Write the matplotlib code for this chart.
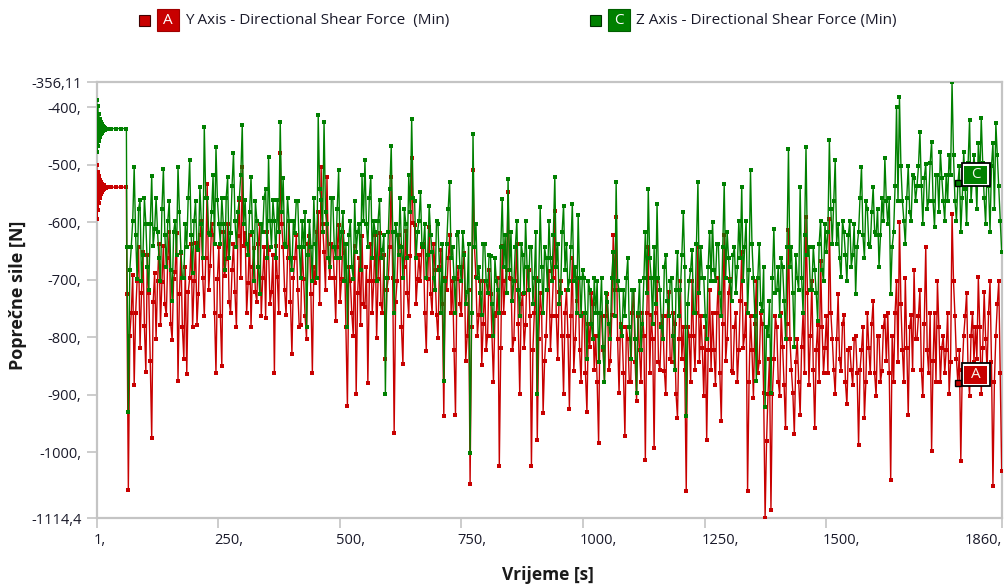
import numpy as np
import matplotlib
matplotlib.use('Agg')
import matplotlib.pyplot as plt
from matplotlib.patches import Rectangle
from matplotlib.transforms import ScaledTranslation

plt.rcParams['font.family'] = ['Open Sans', 'DejaVu Sans']

# ---------------- data ----------------
# start-up transient (time in s)
t_start = list(range(1, 21)) + [25, 30, 40, 50, 62, 63]
y_start = [-501, -594, -512, -578, -520, -566, -526, -558, -530, -551,
           -533, -547, -535, -544, -536, -542, -537, -541, -538, -540,
           -539, -539, -539, -539, -539, -725]
z_start = [-387, -478, -398, -468, -412, -458, -420, -452, -426, -447,
           -430, -444, -432, -442, -434, -440, -435, -439, -436, -438,
           -437, -437, -437, -437, -437, -643]

# main record: samples every 6 s from 66 s to 1860 s ...
t_main = np.arange(66, 1861, 6)
# ... and the samples in between (69 s ... 1857 s)
t_mid = np.arange(69, 1860, 6)

y_main = [
    -1065, -757, -883, -702, -818, -652, -861, -723, -975, -688,
    -703, -778, -641, -762, -617, -804, -687, -876, -653, -838,
    -864, -697, -782, -636, -724, -598, -763, -533, -676, -622,
    -862, -643, -850, -694, -603, -757, -637, -783, -562, -504,
    -618, -705, -783, -644, -738, -603, -697, -766, -648, -722,
    -862, -696, -480, -643, -761, -597, -830, -663, -717, -779,
    -698, -803, -624, -862, -705, -583, -504, -652, -521, -697,
    -643, -771, -604, -698, -654, -920, -702, -797, -899, -663,
    -624, -748, -879, -637, -703, -802, -618, -758, -838, -697,
    -522, -966, -703, -642, -847, -616, -763, -489, -604, -698,
    -702, -637, -824, -609, -758, -683, -801, -648, -937, -718,
    -623, -703, -935, -677, -762, -654, -798, -1055, -510, -696,
    -762, -848, -703, -797, -724, -878, -757, -1024, -642, -703,
    -547, -698, -803, -637, -899, -724, -778, -683, -1024, -757,
    -978, -723, -931, -797, -684, -763, -580, -837, -703, -898,
    -718, -925, -662, -803, -697, -878, -758, -930, -817, -743,
    -798, -984, -763, -877, -725, -842, -623, -591, -897, -783,
    -972, -803, -877, -718, -911, -823, -757, -1013, -643, -762,
    -993, -703, -857, -763, -898, -722, -843, -777, -940, -703,
    -783, -1068, -797, -703, -857, -643, -763, -902, -978, -718,
    -757, -883, -697, -946, -622, -803, -698, -862, -757, -823,
    -652, -797, -1068, -763, -905, -702, -843, -777, -1114.4, -898,
    -1100, -838, -783, -902, -817, -958, -614, -857, -969, -803,
    -935, -757, -591, -883, -703, -958, -778, -667, -862, -763,
    -594, -803, -899, -725, -858, -762, -917, -818, -883, -797,
    -987, -822, -940, -757, -863, -737, -902, -797, -858, -763,
    -757, -1048, -877, -703, -600, -823, -697, -935, -762, -683,
    -803, -718, -902, -643, -862, -998, -757, -703, -878, -797,
    -822, -898, -585, -763, -880, -1016, -797, -723, -902, -757,
    -783, -696, -898, -722, -857, -703, -1059, -797, -703, -1033,
]
y_mid = [
    -797, -692, -758, -643, -723, -781, -657, -842, -738, -803,
    -637, -704, -742, -663, -777, -698, -618, -724, -783, -677,
    -722, -638, -703, -778, -623, -697, -662, -718, -603, -757,
    -698, -763, -617, -664, -738, -683, -722, -624, -697, -642,
    -758, -623, -677, -722, -638, -763, -643, -617, -742, -657,
    -642, -758, -603, -718, -663, -738, -697, -622, -782, -643,
    -763, -637, -724, -678, -617, -742, -603, -718, -662, -637,
    -697, -643, -738, -617, -783, -677, -758, -642, -723, -778,
    -742, -678, -703, -757, -622, -698, -743, -657, -718, -643,
    -697, -738, -623, -782, -677, -723, -658, -602, -743, -657,
    -643, -757, -698, -724, -637, -762, -677, -742, -697, -663,
    -758, -823, -698, -743, -677, -842, -718, -783, -643, -797,
    -703, -777, -822, -683, -798, -763, -697, -818, -757, -683,
    -697, -823, -703, -777, -743, -818, -677, -763, -822, -697,
    -803, -757, -842, -718, -823, -697, -763, -722, -798, -757,
    -797, -763, -858, -737, -823, -757, -862, -777, -723, -857,
    -877, -758, -822, -763, -857, -762, -718, -803, -777, -862,
    -783, -877, -757, -843, -763, -878, -797, -758, -862, -803,
    -757, -843, -777, -858, -763, -838, -757, -898, -803, -837,
    -857, -783, -878, -797, -757, -843, -818, -783, -823, -857,
    -823, -757, -863, -777, -842, -723, -858, -783, -878, -737,
    -818, -743, -877, -823, -777, -862, -757, -897, -980, -837,
    -898, -763, -877, -757, -883, -777, -803, -897, -843, -877,
    -817, -863, -723, -797, -857, -823, -877, -783, -818, -862,
    -757, -857, -803, -838, -777, -878, -823, -857, -803, -862,
    -857, -783, -877, -818, -777, -863, -797, -878, -783, -842,
    -862, -797, -757, -843, -743, -877, -818, -783, -857, -803,
    -763, -857, -777, -823, -757, -842, -877, -783, -818, -863,
    -757, -843, -703, -838, -823, -857, -763, -862, -797, -843,
    -837, -783, -818, -803, -757, -843, -877, -743, -862,
]

z_main = [
    -930, -643, -504, -698, -562, -657, -603, -718, -520, -612,
    -617, -703, -507, -677, -563, -737, -598, -504, -652, -697,
    -643, -492, -688, -563, -648, -603, -434, -557, -622, -518,
    -470, -603, -557, -683, -522, -618, -480, -643, -558, -431,
    -562, -657, -521, -703, -597, -725, -617, -542, -486, -643,
    -598, -562, -425, -523, -643, -597, -683, -618, -563, -697,
    -643, -783, -597, -703, -637, -414, -562, -425, -603, -677,
    -558, -663, -510, -617, -703, -783, -597, -698, -652, -603,
    -518, -492, -643, -521, -597, -703, -562, -648, -899, -617,
    -468, -757, -623, -558, -697, -603, -518, -421, -563, -617,
    -547, -643, -697, -571, -652, -718, -603, -757, -876, -637,
    -530, -643, -757, -617, -703, -657, -722, -1001, -446, -603,
    -677, -762, -637, -723, -658, -797, -703, -757, -559, -623,
    -524, -617, -703, -597, -763, -657, -597, -718, -643, -697,
    -899, -574, -757, -663, -597, -703, -521, -637, -723, -571,
    -637, -703, -568, -677, -588, -763, -697, -838, -718, -803,
    -757, -843, -697, -877, -738, -803, -652, -530, -718, -797,
    -763, -662, -837, -718, -897, -703, -777, -617, -542, -697,
    -643, -568, -718, -803, -657, -763, -697, -857, -652, -718,
    -582, -937, -703, -648, -757, -530, -643, -697, -803, -617,
    -599, -703, -637, -763, -533, -617, -703, -657, -723, -597,
    -538, -643, -757, -510, -697, -876, -637, -754, -922, -797,
    -897, -611, -718, -763, -677, -803, -472, -643, -817, -697,
    -538, -757, -469, -643, -718, -683, -771, -597, -703, -652,
    -457, -637, -492, -603, -696, -617, -703, -597, -657, -725,
    -617, -504, -663, -577, -643, -539, -622, -678, -557, -489,
    -603, -725, -617, -399, -382, -563, -638, -502, -597, -523,
    -537, -443, -603, -498, -563, -460, -609, -517, -478, -563,
    -517, -483, -356.11, -563, -532, -617, -477, -603, -422, -523,
    -517, -463, -419, -557, -503, -617, -462, -428, -537, -652,
]
z_mid = [
    -683, -597, -623, -577, -703, -558, -677, -603, -642, -557,
    -663, -577, -622, -598, -683, -617, -657, -583, -697, -603,
    -557, -623, -597, -643, -538, -663, -557, -618, -583, -637,
    -562, -637, -603, -557, -663, -537, -597, -583, -518, -603,
    -637, -583, -617, -563, -677, -603, -557, -663, -597, -562,
    -663, -617, -583, -637, -557, -662, -597, -563, -643, -597,
    -583, -657, -643, -557, -697, -543, -617, -583, -663, -557,
    -643, -577, -663, -583, -637, -623, -677, -563, -617, -683,
    -597, -603, -557, -663, -617, -597, -663, -623, -697, -543,
    -617, -603, -657, -643, -577, -663, -583, -557, -663, -597,
    -637, -603, -657, -623, -697, -597, -683, -637, -703, -577,
    -663, -697, -623, -677, -617, -743, -637, -757, -643, -697,
    -723, -637, -703, -657, -743, -663, -717, -643, -677, -723,
    -683, -737, -643, -717, -637, -723, -677, -643, -743, -617,
    -703, -677, -643, -717, -663, -623, -677, -743, -617, -683,
    -717, -643, -703, -757, -697, -683, -757, -703, -777, -697,
    -703, -757, -817, -723, -777, -697, -763, -703, -783, -717,
    -697, -783, -717, -803, -757, -823, -697, -723, -663, -777,
    -743, -697, -783, -677, -737, -703, -797, -717, -763, -657,
    -677, -743, -683, -757, -637, -723, -697, -763, -677, -703,
    -683, -637, -723, -643, -697, -663, -737, -643, -677, -663,
    -703, -597, -683, -637, -763, -697, -743, -677, -783, -737,
    -697, -723, -677, -663, -737, -643, -677, -723, -657, -717,
    -697, -623, -657, -717, -643, -723, -637, -683, -603, -617,
    -577, -563, -637, -663, -597, -657, -623, -677, -603, -643,
    -557, -623, -563, -637, -583, -617, -577, -623, -597, -563,
    -557, -643, -537, -563, -503, -597, -557, -583, -517, -563,
    -503, -537, -523, -577, -497, -563, -517, -583, -523, -597,
    -563, -517, -483, -597, -503, -557, -543, -497, -563, -483,
    -577, -523, -497, -603, -537, -503, -577, -483, -597,
]

series_names = ['Y Axis - Directional Shear Force  (Min)', 'Z Axis - Directional Shear Force (Min)']
series_tags = ['A', 'C']
tag_time = 1770

x_ticks = [1, 250, 500, 750, 1000, 1250, 1500, 1860]
x_tick_labels = ['1,', '250,', '500,', '750,', '1000,', '1250,', '1500,', '1860,']
y_ticks = [-356.11, -400, -500, -600, -700, -800, -900, -1000, -1114.4]
y_tick_labels = ['-356,11', '-400,', '-500,', '-600,', '-700,', '-800,', '-900,', '-1000,', '-1114,4']

x_label = 'Vrijeme [s]'
y_label = 'Poprečne sile [N]'

# ---------------- figure ----------------
W, H = 1005, 585
fig = plt.figure(figsize=(W / 100, H / 100), dpi=100)
ax = fig.add_axes([96.7 / W, 1 - 518 / H, (1001.7 - 96.7) / W, (518 - 82) / H])

RED = '#c80000'
GREEN = '#008000'

def merge(main, mid):
    out = np.empty(len(main) + len(mid))
    out[0::2] = main
    out[1::2] = mid
    return out

t_all = np.concatenate([t_start, merge(t_main, t_mid)])
y_all = np.concatenate([y_start, merge(y_main, y_mid)])
z_all = np.concatenate([z_start, merge(z_main, z_mid)])

ax.plot(t_all, y_all, color=RED, lw=1.0, marker='s', ms=2.6, mew=0, zorder=3)
ax.plot(t_all, z_all, color=GREEN, lw=1.0, marker='s', ms=2.6, mew=0, zorder=4)

ax.set_xlim(1, 1860)
ax.set_ylim(-1114.4, -356.11)

grey = '#c4c4c4'
for s in ax.spines.values():
    s.set_color(grey)
    s.set_linewidth(1.6)

ax.set_xticks(x_ticks)
ax.set_xticklabels(x_tick_labels)
ax.set_yticks(y_ticks)
ax.set_yticklabels(y_tick_labels)
ax.tick_params(axis='both', direction='out', length=7.5, width=1.2, color=grey,
               labelsize=10.5, labelcolor='#1a1a2a')
ax.tick_params(axis='x', pad=3.5)
ax.tick_params(axis='y', pad=3.5)

xlabs = ax.get_xticklabels()
for i, lab in enumerate(xlabs):
    if i == len(xlabs) - 1:
        lab.set_ha('right')
    else:
        lab.set_ha('left')
        lab.set_transform(lab.get_transform() + ScaledTranslation(-3.5 / 100, 0, fig.dpi_scale_trans))

fig.text(547.5 / W, 1 - 575 / H, x_label, ha='center', va='center', fontsize=12.5,
         fontweight='bold', color='#1a1a1a')
fig.text(18 / W, 1 - 295 / H, y_label, ha='center', va='center', rotation=90,
         fontsize=13, fontweight='bold', color='#1a1a1a')

# ---------------- legend at top ----------------
def px_rect(x0, y0_img, w, h, **kw):
    r = Rectangle((x0 / W, 1 - (y0_img + h) / H), w / W, h / H,
                  transform=fig.transFigure, **kw)
    fig.add_artist(r)

leg_items = [(139, RED, '#a00000', '#400000'), (590, GREEN, '#006000', '#003000')]
for (x0, col, dark, darker), name, tag in zip(leg_items, series_names, series_tags):
    px_rect(x0, 15, 11, 11, facecolor=col, edgecolor=darker, lw=0.8)
    px_rect(x0 + 18, 9, 22, 22, facecolor=col, edgecolor=dark, lw=0.8)
    fig.text((x0 + 29) / W, 1 - 20.5 / H, tag, ha='center', va='center', color='white', fontsize=11)
    fig.text((x0 + 46) / W, 1 - 20.5 / H, name, ha='left', va='center', color='#1a1a2a', fontsize=11)

# ---------------- in-plot tags ----------------
fig.canvas.draw()
idx = int(np.where(t_main == tag_time)[0][0])
for vals, col, tag in [(y_main, RED, 'A'), (z_main, GREEN, 'C')]:
    mx, my = ax.transData.transform((tag_time, vals[idx]))
    ax.plot([tag_time], [vals[idx]], marker='s', ms=4.2, mfc=col, mec='black', mew=1.0, zorder=6)
    bx, by, bw, bh = mx + 4, my - 3, 28, 23
    fig.add_artist(Rectangle((bx, by), bw, bh, transform=None, facecolor='white',
                             edgecolor='black', lw=1.3, zorder=7))
    fig.add_artist(Rectangle((bx + 2.5, by + 2.5), bw - 5, bh - 5, transform=None,
                             facecolor=col, edgecolor='none', zorder=8))
    fig.text((bx + bw / 2) / W, (by + bh / 2) / H, tag, ha='center', va='center',
             color='#f6f6ee', fontsize=11, zorder=9)

fig.savefig('out.png', dpi=100, facecolor='white')
